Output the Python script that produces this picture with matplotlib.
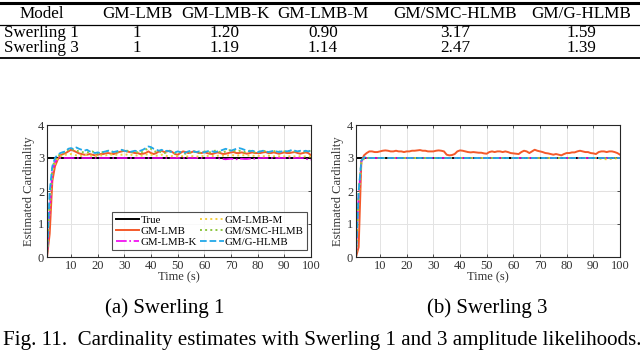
import matplotlib
matplotlib.use("Agg")
import matplotlib.pyplot as plt
from matplotlib.lines import Line2D

plt.rcParams["font.family"] = ["Liberation Serif", "DejaVu Serif"]

# ---- table data ----
table_header = ["Model", "GM-LMB", "GM-LMB-K", "GM-LMB-M", "GM/SMC-HLMB", "GM/G-HLMB"]
table_rows = ["Swerling 1", "Swerling 3"]
table_values = [
    ["1", "1.20", "0.90", "3.17", "1.59"],
    ["1", "1.19", "1.14", "2.47", "1.39"],
]

# ---- cardinality series (t = 1..100 s) ----
time_s = list(range(1, 101))
true_card = [3.0] * 100

s1_lmb = [0, 0.7, 2.3, 2.75, 2.95, 3.08, 3.12, 3.15, 3.2, 3.25,
          3.22, 3.18, 3.14, 3.12, 3.1, 3.1, 3.12, 3.1, 3.08, 3.1,
          3.12, 3.12, 3.14, 3.15, 3.13, 3.12, 3.15, 3.18, 3.2, 3.22,
          3.2, 3.18, 3.17, 3.15, 3.15, 3.12, 3.13, 3.15, 3.2, 3.15,
          3.12, 3.15, 3.2, 3.22, 3.18, 3.2, 3.22, 3.18, 3.12, 3.1,
          3.15, 3.2, 3.18, 3.15, 3.17, 3.2, 3.18, 3.15, 3.15, 3.18,
          3.15, 3.13, 3.12, 3.15, 3.17, 3.15, 3.12, 3.13, 3.15, 3.17,
          3.18, 3.15, 3.15, 3.17, 3.15, 3.13, 3.15, 3.17, 3.15, 3.15,
          3.15, 3.17, 3.18, 3.15, 3.15, 3.17, 3.15, 3.13, 3.15, 3.17,
          3.15, 3.15, 3.17, 3.18, 3.15, 3.13, 3.15, 3.17, 3.15, 3.08]
s1_lmb_k = ([0, 1.4, 2.6, 2.88, 2.98] + [3.0] * 60
            + [2.98, 2.97, 2.96, 2.97, 2.98, 2.97, 2.96, 2.97, 2.98, 2.97,
               2.97, 2.98, 2.97, 2.98, 2.99]
            + [3.0] * 17 + [2.97, 2.96, 2.95])
s1_lmb_m = [0, 1.5, 2.6, 2.85, 3.0, 3.05, 3.08, 3.1, 3.1, 3.12,
            3.1, 3.08, 3.07, 3.06, 3.08, 3.1, 3.08, 3.06, 3.05, 3.07,
            3.08, 3.07, 3.08, 3.1, 3.1, 3.12, 3.1, 3.09, 3.1, 3.12,
            3.1, 3.08, 3.1, 3.09, 3.07, 3.06, 3.08, 3.1, 3.12, 3.1,
            3.08, 3.07, 3.08, 3.1, 3.08, 3.06, 3.05, 3.06, 3.05, 3.05,
            3.06, 3.05, 3.04, 3.05, 3.06, 3.05, 3.04, 3.05, 3.06, 3.05,
            3.06, 3.07, 3.06, 3.05, 3.07, 3.08, 3.07, 3.06, 3.08, 3.09,
            3.08, 3.07, 3.08, 3.09, 3.08, 3.07, 3.08, 3.07, 3.06, 3.07,
            3.06, 3.05, 3.06, 3.07, 3.06, 3.05, 3.06, 3.05, 3.04, 3.05,
            3.06, 3.05, 3.04, 3.05, 3.06, 3.05, 3.04, 3.05, 3.05, 3.04]
s1_smc = [0, 1.6, 2.7, 2.95, 3.05, 3.12, 3.15, 3.2, 3.25, 3.27,
          3.25, 3.22, 3.2, 3.18, 3.17, 3.17, 3.18, 3.2, 3.15, 3.13,
          3.15, 3.18, 3.2, 3.22, 3.2, 3.18, 3.17, 3.2, 3.22, 3.25,
          3.22, 3.2, 3.18, 3.2, 3.17, 3.15, 3.2, 3.25, 3.3, 3.28,
          3.22, 3.18, 3.2, 3.17, 3.15, 3.17, 3.2, 3.18, 3.15, 3.15,
          3.17, 3.15, 3.13, 3.15, 3.17, 3.2, 3.18, 3.15, 3.17, 3.2,
          3.18, 3.17, 3.2, 3.22, 3.2, 3.18, 3.17, 3.2, 3.22, 3.25,
          3.22, 3.2, 3.22, 3.2, 3.18, 3.2, 3.22, 3.2, 3.17, 3.18,
          3.2, 3.22, 3.2, 3.18, 3.17, 3.2, 3.22, 3.2, 3.18, 3.2,
          3.22, 3.2, 3.18, 3.2, 3.22, 3.2, 3.18, 3.2, 3.22, 3.2]
s1_ghlmb = [0, 2.0, 2.75, 3.0, 3.1, 3.15, 3.18, 3.2, 3.28, 3.3,
            3.27, 3.32, 3.28, 3.25, 3.22, 3.25, 3.2, 3.18, 3.15, 3.17,
            3.15, 3.18, 3.2, 3.22, 3.2, 3.18, 3.2, 3.22, 3.25, 3.22,
            3.2, 3.18, 3.2, 3.22, 3.2, 3.22, 3.25, 3.3, 3.35, 3.33,
            3.28, 3.25, 3.22, 3.25, 3.2, 3.22, 3.2, 3.18, 3.17, 3.2,
            3.18, 3.15, 3.17, 3.2, 3.22, 3.2, 3.18, 3.2, 3.18, 3.17,
            3.2, 3.22, 3.2, 3.18, 3.2, 3.22, 3.25, 3.28, 3.25, 3.22,
            3.25, 3.28, 3.3, 3.28, 3.25, 3.22, 3.2, 3.22, 3.2, 3.18,
            3.2, 3.22, 3.2, 3.18, 3.2, 3.22, 3.2, 3.18, 3.2, 3.22,
            3.2, 3.22, 3.25, 3.22, 3.2, 3.22, 3.2, 3.22, 3.2, 3.22]

s3_lmb = [0, 0.3, 2.9, 3.08, 3.15, 3.2, 3.2, 3.18, 3.18, 3.2,
          3.22, 3.23, 3.22, 3.2, 3.2, 3.22, 3.2, 3.2, 3.18, 3.2,
          3.2, 3.22, 3.22, 3.23, 3.24, 3.22, 3.22, 3.2, 3.2, 3.2,
          3.22, 3.23, 3.22, 3.2, 3.1, 3.08, 3.09, 3.12, 3.2, 3.23,
          3.22, 3.2, 3.18, 3.17, 3.18, 3.17, 3.16, 3.16, 3.14, 3.13,
          3.18, 3.2, 3.18, 3.2, 3.2, 3.18, 3.2, 3.18, 3.15, 3.14,
          3.13, 3.12, 3.18, 3.22, 3.2, 3.15, 3.2, 3.25, 3.22, 3.2,
          3.18, 3.15, 3.14, 3.12, 3.1, 3.12, 3.1, 3.08, 3.12, 3.15,
          3.15, 3.17, 3.17, 3.2, 3.22, 3.2, 3.18, 3.18, 3.15, 3.14,
          3.12, 3.18, 3.2, 3.2, 3.18, 3.2, 3.2, 3.18, 3.15, 3.1]
s3_lmb_k = [0, 1.9, 2.9, 3.0] + [3.0] * 96
s3_lmb_m = ([0, 1.8, 2.85, 2.98] + [3.0] * 87
            + [2.98, 2.97, 2.97, 2.96, 2.97, 2.97, 2.98] + [3.0] * 2)
s3_smc = [0, 1.9, 2.88, 3.0] + [3.0] * 96
s3_ghlmb = [0, 2.0, 2.92, 3.02, 3.03] + [3.0] * 95

series_names = ["True", "GM-LMB", "GM-LMB-K", "GM-LMB-M", "GM/SMC-HLMB", "GM/G-HLMB"]
colors = ["#000000", "#F4592A", "#F000F0", "#F5D040", "#8CC63F", "#22A8E8"]
styles = ["-", "-", "-.", ":", ":", "--"]
widths = [1.4, 1.4, 1.2, 1.4, 1.4, 1.3]

W, H = 640, 352
fig = plt.figure(figsize=(W / 100, H / 100), dpi=100)

# ---- table and captions drawn in pixel coordinates on an overlay axes ----
tab = fig.add_axes([0, 0, 1, 1])
tab.set_xlim(0, W)
tab.set_ylim(H, 0)
tab.axis("off")
col_x = [42, 137, 225, 323, 455, 581]
for x, label in zip(col_x, table_header):
    tab.text(x, 14, label, ha="center", va="center", fontsize=12.3)
for y, row, vals in zip([33, 48], table_rows, table_values):
    tab.text(41, y, row, ha="center", va="center", fontsize=12.3)
    for x, v in zip(col_x[1:], vals):
        tab.text(x, y, v, ha="center", va="center", fontsize=12.3)
for y, lw in [(2.5, 2.2), (24.5, 0.9), (57.5, 1.3)]:
    tab.add_line(Line2D([0, W], [y, y], color="black", lw=lw))

tab.text(165, 308, "(a) Swerling 1", ha="center", va="center", fontsize=15)
tab.text(487, 308, "(b) Swerling 3", ha="center", va="center", fontsize=15)
tab.text(3, 340, "Fig. 11.  Cardinality estimates with Swerling 1 and 3 amplitude likelihoods.",
         ha="left", va="center", fontsize=15.1)


def draw_panel(ax, data):
    for vals, name, c, ls, lw in zip(data, series_names, colors, styles, widths):
        ax.plot(time_s, vals, color=c, linestyle=ls, lw=lw, label=name)
    ax.set_xlim(1, 100)
    ax.set_ylim(0, 4)
    ax.set_xticks(range(10, 101, 10))
    ax.set_yticks(range(0, 5))
    ax.grid(True, color="#e3e3e3", lw=0.7)
    ax.set_axisbelow(True)
    ax.tick_params(direction="in", top=True, right=True, labelsize=9,
                   length=2.5, width=0.6, colors="#333333", pad=2)
    for sp in ax.spines.values():
        sp.set_color("#262626")
        sp.set_linewidth(0.8)
    ax.set_xlabel("Time (s)", fontsize=9, color="#333333", labelpad=0)
    ax.set_ylabel("Estimated Cardinality", fontsize=9, color="#333333", labelpad=2)


ax_l = fig.add_axes([47 / W, (H - 257) / H, 264 / W, 132 / H])
ax_r = fig.add_axes([356 / W, (H - 257) / H, 264 / W, 132 / H])
draw_panel(ax_l, [true_card, s1_lmb, s1_lmb_k, s1_lmb_m, s1_smc, s1_ghlmb])
draw_panel(ax_r, [true_card, s3_lmb, s3_lmb_k, s3_lmb_m, s3_smc, s3_ghlmb])

leg = ax_l.legend(ncol=2, loc="lower right", bbox_to_anchor=(0.985, 0.05),
                  fontsize=7.8, frameon=True, fancybox=False, handlelength=2.2,
                  handletextpad=0.1, columnspacing=0.3, labelspacing=0.15,
                  borderpad=0.3, borderaxespad=0)
leg.get_frame().set_edgecolor("#222222")
leg.get_frame().set_linewidth(0.8)

fig.savefig("out.png", dpi=100)
